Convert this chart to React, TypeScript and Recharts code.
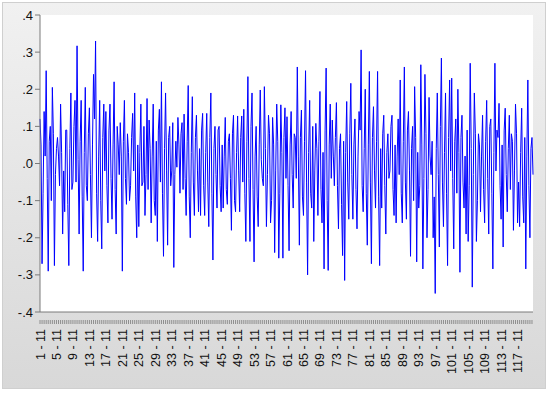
import { LineChart, Line, XAxis, YAxis, CartesianGrid } from "recharts"

// main swings, left to right
const seg1 = [
  0.12, -0.27, 0.14, 0.25, -0.29, 0.1, 0.205, -0.275, 0.04, 0.02,
  0.16, -0.19, -0.13, 0.09, -0.275, 0.19, -0.05, 0.17, 0.317, -0.19,
  0.17, -0.29, 0.205, -0.1, 0.15, -0.2, 0.24, 0.33, -0.21, 0.17,
  -0.23, 0.16, 0.14, -0.16, 0.16, -0.15, 0.22, -0.19, 0.05, 0.11,
]
const seg2 = [
  -0.29, 0.17, -0.11, 0.03, -0.06, 0.135, 0.19, -0.2, -0.17, 0.16,
  -0.05, -0.14, 0.175, 0.117, -0.16, 0.16, -0.14, -0.21, 0.146, 0.22,
  -0.25, 0.19, -0.22, 0.1, -0.02, -0.28, 0.06, 0.124, -0.08, 0.11,
  0.133, -0.14, 0.21, -0.2, 0.18, -0.14, 0.13, -0.13, -0.14, 0.135,
]
const seg3 = [
  -0.14, 0.135, -0.17, 0.19, -0.26, 0.1, -0.12, 0.1, -0.13, -0.12,
  0.124, -0.11, 0.08, -0.18, 0.13, -0.13, 0.128, -0.13, 0.128, 0.146,
  -0.21, 0.234, -0.21, 0.19, -0.265, 0.1, -0.17, 0.198, -0.04, 0.207,
  -0.17, 0.13, -0.16, 0.124, -0.24, 0.16, -0.255, 0.158, -0.255, 0.15,
]
const seg4 = [
  0.126, -0.235, 0.14, -0.12, 0.07, 0.26, -0.22, 0.144, -0.14, 0.25,
  -0.3, 0.17, -0.12, -0.21, 0.108, -0.14, 0.194, -0.16, -0.284, 0.257,
  -0.288, 0.16, 0.117, -0.06, 0.164, -0.176, 0.08, -0.248, -0.315, 0.167,
  -0.15, 0.216, -0.15, 0.12, -0.176, 0.14, 0.306, -0.13, 0.2, -0.22,
]
const seg5 = [
  0.248, -0.27, 0.153, -0.12, 0.248, -0.275, -0.12, 0.13, -0.19, 0.08,
  -0.02, 0.13, -0.14, -0.16, 0.12, 0.225, -0.16, 0.26, -0.15, 0.14,
  -0.25, 0.1, 0.207, -0.265, -0.12, 0.266, -0.284, 0.24, -0.2, 0.178,
  -0.03, -0.2, -0.35, 0.19, -0.225, 0.284, -0.17, 0.19, -0.275, 0.225,
]
const seg6 = [
  0.23, -0.23, 0.12, 0.2, -0.293, 0.13, -0.12, -0.19, -0.21, 0.27,
  -0.333, 0.19, -0.21, 0.08, -0.13, 0.13, -0.16, 0.17, -0.19, 0.12,
  -0.284, 0.27, 0.09, 0.162, -0.15, -0.225, 0.149, -0.13, 0.13, 0.08,
  -0.18, 0.16, -0.16, -0.17, 0.149, -0.16, -0.284, 0.225, -0.2, 0.07,
]

// the smaller moves in between (the dense core around zero)
const mid1 = [
  0.05, -0.08, 0.02, -0.04, 0.06, -0.1, 0.08, -0.03, 0.07, -0.06,
  0.03, -0.02, 0.09, -0.11, 0.04, -0.07, 0.1, -0.05, 0.01, 0.06,
  -0.09, 0.03, -0.06, 0.08, -0.03, 0.05, 0.12, -0.08, 0.02, -0.1,
  0.07, -0.02, -0.06, 0.09, -0.04, 0.05, -0.07, 0.1, -0.03, 0.02,
]
const mid2 = [
  0.06, -0.04, 0.08, -0.1, 0.07, -0.02, -0.09, 0.05, 0.03, -0.06,
  0.1, -0.03, -0.07, 0.04, 0.02, -0.1, 0.06, 0.09, -0.05, -0.08,
  0.04, -0.02, 0.07, -0.06, 0.11, -0.03, -0.01, 0.05, 0.08, -0.07,
  -0.04, 0.06, -0.09, 0.03, -0.05, 0.07, -0.02, 0.04, 0.09, -0.06,
]
const mid3 = [
  0.03, -0.05, 0.07, -0.08, 0.04, -0.03, 0.09, -0.06, 0.05, 0.02,
  -0.07, 0.06, -0.04, 0.08, -0.1, 0.03, -0.02, 0.07, -0.05, -0.08,
  0.06, -0.04, 0.1, -0.07, 0.02, -0.09, 0.05, 0.01, -0.06, 0.04,
  -0.03, 0.08, -0.1, 0.05, -0.02, 0.06, -0.08, 0.03, 0.07, -0.04,
]
const mid4 = [
  -0.06, 0.05, -0.03, 0.08, -0.04, 0.02, 0.07, -0.09, 0.06, -0.05,
  0.03, -0.08, 0.1, -0.02, 0.04, 0.06, -0.07, 0.03, 0.09, -0.1,
  0.05, -0.04, 0.02, 0.07, -0.06, 0.04, -0.11, 0.06, 0.03, -0.05,
  0.08, -0.03, 0.05, -0.07, 0.02, 0.09, -0.06, 0.04, -0.08, 0.05,
]
const mid5 = [
  -0.05, 0.07, -0.02, 0.06, -0.09, 0.04, 0.08, -0.06, 0.03, -0.04,
  0.1, -0.07, 0.05, 0.02, -0.03, -0.08, 0.06, -0.05, 0.09, -0.02,
  0.04, -0.1, 0.07, 0.03, -0.06, 0.05, -0.04, 0.08, -0.07, 0.02,
  0.06, -0.09, 0.04, -0.03, 0.1, -0.05, 0.03, -0.08, 0.07, -0.02,
]
const mid6 = [
  -0.04, 0.06, -0.08, 0.03, 0.07, -0.05, 0.02, 0.09, -0.06, 0.04,
  -0.03, 0.08, -0.1, 0.05, 0.02, -0.07, 0.06, -0.04, 0.1, -0.08,
  0.03, -0.02, 0.07, -0.06, 0.05, 0.09, -0.03, 0.04, -0.07, 0.06,
  -0.02, 0.08, -0.05, 0.03, -0.09, 0.07, 0.02, -0.06, 0.04, -0.03,
]

const swings = [...seg1, ...seg2, ...seg3, ...seg4, ...seg5, ...seg6]
const smalls = [...mid1, ...mid2, ...mid3, ...mid4, ...mid5, ...mid6]
const series = swings.flatMap((v, k) => [v, smalls[k]])

// observation labels "period - sub", four per period
const obsLabels = series.map((_, i) => `${1 + Math.floor(i / 4)} - ${11 + (i % 4)}`)
const yTicks = [0.4, 0.3, 0.2, 0.1, 0, -0.1, -0.2, -0.3, -0.4]

const data = series.map((v, i) => ({ obs: obsLabels[i], value: v }))

const font = "'Liberation Sans', Arial, sans-serif"
const frame = "#7a7a7a"

const fmtY = (v: number) => (v < 0 ? "-" : "") + "." + Math.round(Math.abs(v) * 10)

function ObsTick(props: any) {
  const { x, y, payload, index } = props
  if (index % 2 !== 0) return <g />
  return (
    <g transform={`translate(${x},${y})`}>
      <line x1={0} y1={0} x2={0} y2={4} stroke={frame} strokeWidth={0.8} />
      {index % 16 === 0 && (
        <text
          transform="rotate(-90)"
          x={-9}
          y={4.5}
          textAnchor="end"
          fontSize={12.5}
          fontFamily={font}
          fill="#111"
        >
          {payload.value}
        </text>
      )}
    </g>
  )
}

export default function App() {
  return (
    <div
      style={{
        position: "absolute",
        left: 0,
        top: 0,
        width: 550,
        height: 396,
        background: "#fff",
      }}
    >
      <div
        style={{
          position: "absolute",
          left: 2,
          top: 2,
          width: 542,
          height: 385,
          border: "1px solid #cfcfcf",
          background: "linear-gradient(#f1f1f1, #d8d8d8)",
        }}
      />
      <div style={{ position: "absolute", left: 0, top: 0 }}>
        <LineChart
          width={550}
          height={396}
          data={data}
          margin={{ top: 15, right: 17, left: 0, bottom: 4 }}
        >
          <CartesianGrid horizontal={false} vertical={false} fill="#fff" />
          <XAxis
            dataKey="obs"
            interval={0}
            height={80}
            tick={<ObsTick />}
            tickLine={false}
            axisLine={{ stroke: frame }}
          />
          <XAxis xAxisId="top" dataKey="obs" orientation="top" height={0} tick={false} tickLine={false} axisLine={{ stroke: frame }} />
          <YAxis
            domain={[-0.4, 0.4]}
            ticks={yTicks}
            tickFormatter={fmtY}
            width={40}
            tickSize={5}
            tick={{ fontSize: 13, fontFamily: font, fill: "#111" }}
            tickLine={{ stroke: frame }}
            axisLine={{ stroke: frame }}
          />
          <YAxis yAxisId="right" orientation="right" width={0} domain={[-0.4, 0.4]} tick={false} tickLine={false} axisLine={{ stroke: frame }} />
          <Line
            type="linear"
            dataKey="value"
            stroke="#0000ff"
            strokeWidth={1}
            dot={false}
            isAnimationActive={false}
          />
        </LineChart>
      </div>
    </div>
  )
}
